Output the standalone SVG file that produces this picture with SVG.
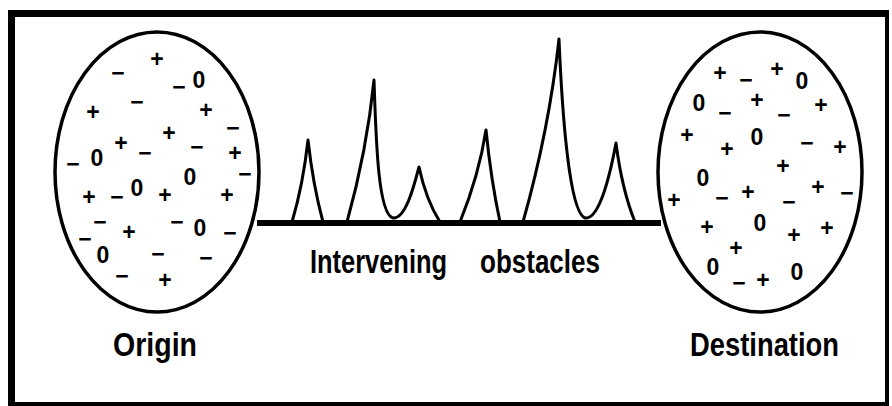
<svg xmlns="http://www.w3.org/2000/svg" width="892" height="406" viewBox="0 0 892 406">
<style>
.bg{fill:#ffffff}
.frame{fill:#000000}
.ell{fill:#ffffff;stroke:#000000;stroke-width:3.5}
.peak{fill:none;stroke:#000000;stroke-width:3;stroke-linejoin:round;stroke-linecap:round}
.base{stroke:#000000;stroke-width:6;fill:none}
.lbl{font-family:"Liberation Sans",Arial,sans-serif;font-size:34px;font-weight:bold;fill:#000000}
.sym{font-family:"Liberation Sans",Arial,sans-serif;font-size:23px;font-weight:bold;fill:#000000;text-anchor:middle;dominant-baseline:central}
</style>
<rect class="bg" x="0" y="0" width="892" height="406"/>
<g id="frame">
<rect class="frame" x="8" y="10" width="881" height="7"/>
<rect class="frame" x="8" y="10" width="7" height="396"/>
<rect class="frame" x="885" y="10" width="4" height="396"/>
<rect class="frame" x="8" y="402" width="881" height="4"/>
</g>
<g id="connectors">
<line class="base" x1="257" y1="223" x2="661" y2="223"/>
</g>
<g id="obstacles">
<path class="peak" d="M292,222 Q303,185 308,140 Q313,185 323,222"/>
<path class="peak" d="M347,222 Q367,150 374,80 C376,140 378,214 393,218 C405,219 413,190 419,167 Q426,200 440,222"/>
<path class="peak" d="M460,222 Q479,175 486,130 Q491,180 500,222"/>
<path class="peak" d="M523,222 Q549,130 559,39 C562,110 569,212 585,218 C600,220 611,170 616,143 Q622,190 635,222"/>
<text class="lbl"><tspan x="310" y="273" textLength="137" lengthAdjust="spacingAndGlyphs">Intervening</tspan> <tspan x="480" y="273" textLength="120" lengthAdjust="spacingAndGlyphs">obstacles</tspan></text>
</g>
<g id="origin">
<ellipse class="ell" cx="157" cy="172" rx="102" ry="140"/>
<text class="sym" x="157" y="59">+</text>
<text class="sym" x="118" y="73">−</text>
<text class="sym" x="179" y="87">−</text>
<text class="sym" x="199" y="80">0</text>
<text class="sym" x="93" y="112">+</text>
<text class="sym" x="137" y="102">−</text>
<text class="sym" x="206" y="110">+</text>
<text class="sym" x="233" y="128">−</text>
<text class="sym" x="121" y="143">+</text>
<text class="sym" x="169" y="133">+</text>
<text class="sym" x="145" y="153">−</text>
<text class="sym" x="197" y="147">−</text>
<text class="sym" x="235" y="153">+</text>
<text class="sym" x="73" y="164">−</text>
<text class="sym" x="97" y="158">0</text>
<text class="sym" x="190" y="177">0</text>
<text class="sym" x="245" y="174">−</text>
<text class="sym" x="89" y="197">+</text>
<text class="sym" x="117" y="197">−</text>
<text class="sym" x="137" y="188">0</text>
<text class="sym" x="165" y="195">+</text>
<text class="sym" x="227" y="195">+</text>
<text class="sym" x="100" y="222">−</text>
<text class="sym" x="129" y="232">+</text>
<text class="sym" x="177" y="222">−</text>
<text class="sym" x="200" y="228">0</text>
<text class="sym" x="230" y="233">−</text>
<text class="sym" x="85" y="239">−</text>
<text class="sym" x="103" y="255">0</text>
<text class="sym" x="158" y="254">−</text>
<text class="sym" x="206" y="258">−</text>
<text class="sym" x="122" y="276">−</text>
<text class="sym" x="165" y="280">+</text>
<text class="lbl" x="113" y="356" textLength="84" lengthAdjust="spacingAndGlyphs">Origin</text>
</g>
<g id="destination">
<ellipse class="ell" cx="760" cy="172" rx="102" ry="140"/>
<text class="sym" x="720" y="73">+</text>
<text class="sym" x="746" y="80">−</text>
<text class="sym" x="777" y="69">+</text>
<text class="sym" x="802" y="81">0</text>
<text class="sym" x="699" y="103">0</text>
<text class="sym" x="725" y="113">−</text>
<text class="sym" x="757" y="100">+</text>
<text class="sym" x="784" y="115">−</text>
<text class="sym" x="821" y="105">+</text>
<text class="sym" x="687" y="135">+</text>
<text class="sym" x="727" y="149">+</text>
<text class="sym" x="757" y="137">0</text>
<text class="sym" x="807" y="143">−</text>
<text class="sym" x="840" y="147">+</text>
<text class="sym" x="783" y="166">+</text>
<text class="sym" x="703" y="178">0</text>
<text class="sym" x="722" y="198">−</text>
<text class="sym" x="748" y="192">+</text>
<text class="sym" x="789" y="202">−</text>
<text class="sym" x="818" y="187">+</text>
<text class="sym" x="847" y="193">−</text>
<text class="sym" x="674" y="200">+</text>
<text class="sym" x="707" y="227">+</text>
<text class="sym" x="760" y="223">0</text>
<text class="sym" x="794" y="235">+</text>
<text class="sym" x="827" y="228">+</text>
<text class="sym" x="736" y="248">+</text>
<text class="sym" x="713" y="267">0</text>
<text class="sym" x="739" y="283">−</text>
<text class="sym" x="763" y="280">+</text>
<text class="sym" x="797" y="272">0</text>
<text class="lbl" x="690" y="356" textLength="149" lengthAdjust="spacingAndGlyphs">Destination</text>
</g>
</svg>
